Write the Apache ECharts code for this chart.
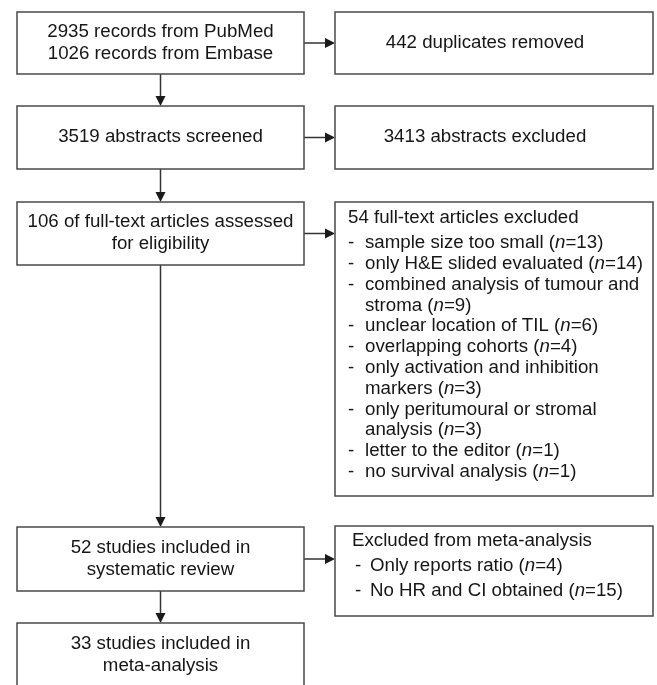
<!DOCTYPE html>
<html>
<head>
<meta charset="utf-8">
<script src="https://cdn.jsdelivr.net/npm/echarts@6/dist/echarts.min.js"></script>
<style>
  html, body { margin: 0; padding: 0; background: #fff; }
  #flow { width: 657px; height: 685px; }
</style>
</head>
<body>
<div id="flow"></div>
<script>
// flow diagram contents
var mainSteps = [
    ['2935 records from PubMed', '1026 records from Embase'],
    ['3519 abstracts screened'],
    ['106 of full-text articles assessed', 'for eligibility'],
    ['52 studies included in', 'systematic review'],
    ['33 studies included in', 'meta-analysis']
];
var sideNotes = ['442 duplicates removed', '3413 abstracts excluded'];

var fullTextTitle = '54 full-text articles excluded';
var fullTextReasons = [
    { lines: ['sample size too small'], n: 13 },
    { lines: ['only H&E slided evaluated'], n: 14 },
    { lines: ['combined analysis of tumour and', 'stroma'], n: 9 },
    { lines: ['unclear location of TIL'], n: 6 },
    { lines: ['overlapping cohorts'], n: 4 },
    { lines: ['only activation and inhibition', 'markers'], n: 3 },
    { lines: ['only peritumoural or stromal', 'analysis'], n: 3 },
    { lines: ['letter to the editor'], n: 1 },
    { lines: ['no survival analysis'], n: 1 }
];

var metaTitle = 'Excluded from meta-analysis';
var metaReasons = [
    { lines: ['Only reports ratio'], n: 4 },
    { lines: ['No HR and CI obtained'], n: 15 }
];

// layout
var FONT = '"Liberation Sans", Arial, Helvetica, sans-serif';
var FS = 18.7;
var TXT = '#161616';
var LINE = '#4a4a4a';
var leftX = 17, leftW = 287;
var rightX = 335, rightW = 318;
var leftBoxes = [[12, 62], [106, 63], [202, 63], [527, 64], [623, 64]];
var rightBoxes = [[12, 62], [106, 63], [202, 294], [526, 90]];

var els = [];

function box(x, y, w, h) {
    els.push({
        type: 'rect',
        shape: { x: x, y: y, width: w, height: h },
        style: { fill: '#fff', stroke: LINE, lineWidth: 1.5 }
    });
}

function txt(str, x, y, align) {
    els.push({
        type: 'text',
        x: x, y: y,
        style: {
            text: str,
            fill: TXT,
            fontSize: FS,
            fontFamily: FONT,
            align: align || 'left',
            verticalAlign: 'middle',
            rich: {
                i: { fontSize: FS, fontFamily: FONT, fontStyle: 'italic', fill: TXT }
            }
        }
    });
}

function arrowDown(x, y1, y2) {
    els.push({ type: 'line', shape: { x1: x, y1: y1, x2: x, y2: y2 - 8 }, style: { stroke: '#333', lineWidth: 1.5 } });
    els.push({ type: 'polygon', shape: { points: [[x - 5, y2 - 10], [x + 5, y2 - 10], [x, y2]] }, style: { fill: '#1a1a1a' } });
}

function arrowRight(x1, x2, y) {
    els.push({ type: 'line', shape: { x1: x1, y1: y, x2: x2 - 8, y2: y }, style: { stroke: '#333', lineWidth: 1.5 } });
    els.push({ type: 'polygon', shape: { points: [[x2 - 10, y - 5], [x2 - 10, y + 5], [x2, y]] }, style: { fill: '#1a1a1a' } });
}

// connectors first
var cx = leftX + leftW / 2;
for (var i = 0; i < leftBoxes.length - 1; i++) {
    arrowDown(cx, leftBoxes[i][0] + leftBoxes[i][1], leftBoxes[i + 1][0]);
}
[0, 1, 2, 3].forEach(function (k) {
    var b = leftBoxes[k];
    arrowRight(leftX + leftW, rightX, b[0] + b[1] / 2);
});

// main column
mainSteps.forEach(function (lines, k) {
    var b = leftBoxes[k];
    box(leftX, b[0], leftW, b[1]);
    var mid = b[0] + b[1] / 2;
    lines.forEach(function (s, j) {
        var yy = mid + (j - (lines.length - 1) / 2) * 22 - 0.5;
        txt(s, cx, yy, 'center');
    });
});

// side boxes
rightBoxes.forEach(function (b) { box(rightX, b[0], rightW, b[1]); });
sideNotes.forEach(function (s, k) {
    var b = rightBoxes[k];
    txt(s, 485, b[0] + b[1] / 2 - 0.5, 'center');
});

// full-text exclusions
txt(fullTextTitle, 348, 218);
var row = 0;
fullTextReasons.forEach(function (r) {
    txt('-', 348, 243 + row * 20.8);
    r.lines.forEach(function (s, j) {
        var last = j === r.lines.length - 1;
        txt(last ? s + ' ({i|n}=' + r.n + ')' : s, 365, 243 + row * 20.8);
        row++;
    });
});

// meta-analysis exclusions
txt(metaTitle, 352, 541);
var mrow = 0;
metaReasons.forEach(function (r) {
    txt('-', 355, 566 + mrow * 25);
    txt(r.lines[0] + ' ({i|n}=' + r.n + ')', 370, 566 + mrow * 25);
    mrow++;
});

var myChart = echarts.init(document.getElementById('flow'));
var option = {
    backgroundColor: '#fff',
    animation: false,
    graphic: { elements: els }
};
myChart.setOption(option, true);
</script>
</body>
</html>
